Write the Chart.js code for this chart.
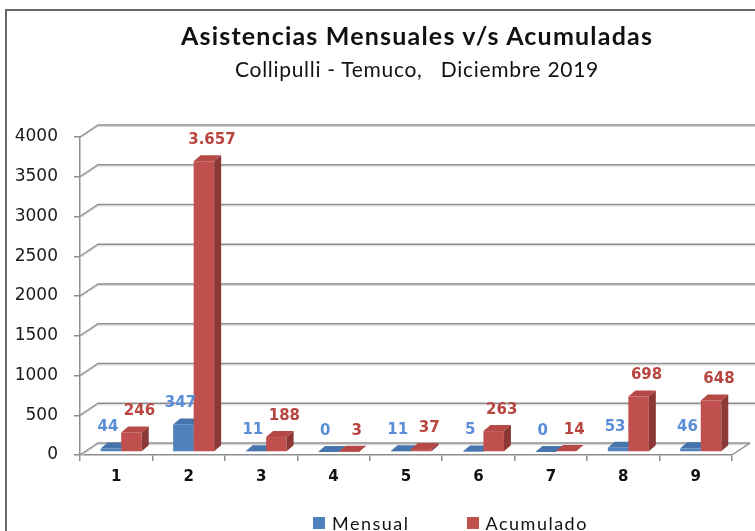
<!DOCTYPE html>
<html>
<head>
<meta charset="utf-8">
<script src="https://cdn.jsdelivr.net/npm/chart.js@4.4.1/dist/chart.umd.min.js"></script>
<style>
  body { margin: 0; background: #fff; }
  #wrap { position: relative; width: 755px; height: 531px; overflow: hidden; background: #fff; }
  #frame { position: absolute; left: 5px; top: 9px; width: 900px; height: 700px;
           border-left: 2px solid #666; border-top: 2px solid #666; }
  #chart { position: absolute; left: 0; top: 0; }
  .txt { position: absolute; left: 0; width: 834px; text-align: center; white-space: pre; color: #111; font-family: Lato, sans-serif; }
  #title { top: 23px; font-size: 25px; line-height: 25px; font-weight: bold; letter-spacing: 1.2px; }
  #subtitle { top: 58px; font-size: 21px; line-height: 21px; letter-spacing: 0.7px; }
  #legend { position: absolute; left: 313px; top: 514px; display: flex; gap: 57px;
            font-family: Lato, sans-serif; font-size: 18px; line-height: 18px; letter-spacing: 1.5px; color: #111; }
  #legend .item { display: flex; align-items: flex-start; }
  #legend .box { width: 12px; height: 12px; margin-top: 3px; margin-right: 7px; }
</style>
</head>
<body>
<div id="wrap">
  <div id="frame"></div>
  <canvas id="chart" width="755" height="531"></canvas>
  <div id="title" class="txt">Asistencias Mensuales v/s Acumuladas</div>
  <div id="subtitle" class="txt">Collipulli - Temuco,   Diciembre 2019</div>
  <div id="legend"></div>
</div>
<script>
const categories = ["1", "2", "3", "4", "5", "6", "7", "8", "9"];
const mensual = [44, 347, 11, 0, 11, 5, 0, 53, 46];
const acumulado = [246, 3657, 188, 3, 37, 263, 14, 698, 648];
const yMax = 4000;
const yStep = 500;

// depth of the walls and of the bars
const WALL_DX = 18, WALL_DY = 12;
const BAR_DX = 7, BAR_DY = 6;
const SHIFT_X = 5, SHIFT_Y = -3;

const faceColors = [
  { front: "#4F81BD", top: "#4675AE", side: "#385D8A", label: "#5A8ED6" },
  { front: "#C0504D", top: "#B64946", side: "#8C3836", label: "#B8453F" }
];

function fmt(n) {
  return String(n).replace(/\B(?=(\d{3})+(?!\d))/g, ".");
}

let drawingBars = false;

const wallsPlugin = {
  id: "walls",
  beforeDatasetsDraw(chart) {
    const ctx = chart.ctx;
    const { left, right, bottom } = chart.chartArea;
    const y = chart.scales.y;
    ctx.save();
    y.ticks.forEach(t => {
      const py = y.getPixelForValue(t.value);
      const end = t.value === 0 ? right + WALL_DX : chart.width;
      ctx.strokeStyle = "#d6d6d6";
      ctx.lineWidth = 1;
      ctx.beginPath();
      ctx.moveTo(left, py + 1.5);
      ctx.lineTo(left + WALL_DX, py - WALL_DY + 1.5);
      ctx.lineTo(end, py - WALL_DY + 1.5);
      ctx.stroke();
      ctx.strokeStyle = "#8e8e8e";
      ctx.lineWidth = 1.5;
      ctx.beginPath();
      ctx.moveTo(left, py);
      ctx.lineTo(left + WALL_DX, py - WALL_DY);
      ctx.lineTo(end, py - WALL_DY);
      ctx.stroke();
    });
    ctx.beginPath();
    ctx.moveTo(right, bottom);
    ctx.lineTo(right + WALL_DX, bottom - WALL_DY);
    ctx.stroke();
    ctx.restore();
  },
  // chart.js paints the last dataset first; skip that and paint them left to right below
  beforeDatasetDraw() {
    return drawingBars;
  },
  afterDatasetsDraw(chart) {
    const ctx = chart.ctx;
    drawingBars = true;
    chart.data.datasets.forEach((ds, i) => {
      const meta = chart.getDatasetMeta(i);
      const c = faceColors[i];
      ctx.save();
      ctx.translate(SHIFT_X, SHIFT_Y);
      meta.controller.draw();
      meta.data.forEach(bar => {
        const x0 = bar.x - bar.width / 2, x1 = bar.x + bar.width / 2;
        const top = bar.y, base = bar.base;
        ctx.fillStyle = c.top;
        ctx.beginPath();
        ctx.moveTo(x0, top);
        ctx.lineTo(x1, top);
        ctx.lineTo(x1 + BAR_DX, top - BAR_DY);
        ctx.lineTo(x0 + BAR_DX, top - BAR_DY);
        ctx.closePath();
        ctx.fill();
        ctx.fillStyle = c.side;
        ctx.beginPath();
        ctx.moveTo(x1, top);
        ctx.lineTo(x1 + BAR_DX, top - BAR_DY);
        ctx.lineTo(x1 + BAR_DX, base - BAR_DY);
        ctx.lineTo(x1, base);
        ctx.closePath();
        ctx.fill();
      });
      ctx.restore();
    });
    drawingBars = false;

    ctx.save();
    ctx.font = "bold 15px 'DejaVu Sans'";
    ctx.textAlign = "center";
    ctx.textBaseline = "middle";
    chart.data.datasets.forEach((ds, i) => {
      const meta = chart.getDatasetMeta(i);
      ctx.fillStyle = faceColors[i].label;
      meta.data.forEach((bar, j) => {
        const dx = i === 0 ? -3 : 8;
        ctx.fillText(fmt(ds.data[j]), bar.x + SHIFT_X + dx, bar.y + SHIFT_Y - 21);
      });
    });
    ctx.restore();
  }
};

const chart = new Chart(document.getElementById("chart"), {
  type: "bar",
  data: {
    labels: categories,
    datasets: [
      { label: "Mensual", data: mensual, backgroundColor: faceColors[0].front,
        categoryPercentage: 0.566, barPercentage: 1, clip: false },
      { label: "Acumulado", data: acumulado, backgroundColor: faceColors[1].front,
        categoryPercentage: 0.566, barPercentage: 1, clip: false }
    ]
  },
  options: {
    responsive: false,
    animation: false,
    layout: { padding: { top: 137, right: 23, bottom: 36, left: 0 } },
    plugins: {
      legend: { display: false },
      title: { display: false },
      tooltip: { enabled: false }
    },
    scales: {
      x: {
        afterFit: s => { s.height = 40; },
        grid: { drawOnChartArea: false, drawTicks: true, tickLength: 6, color: "#8e8e8e", lineWidth: 1.5 },
        border: { display: true, color: "#8e8e8e", width: 1.5 },
        ticks: { padding: 7, color: "#111", font: { family: "DejaVu Sans", size: 15, weight: "bold" } }
      },
      y: {
        min: 0,
        max: yMax,
        afterFit: s => { s.width = 80; },
        grid: { drawOnChartArea: false, drawTicks: true, tickLength: 6, color: "#8e8e8e", lineWidth: 1.5 },
        border: { display: true, color: "#8e8e8e", width: 1.5 },
        ticks: { stepSize: yStep, padding: 16, color: "#1a1a1a", font: { family: "DejaVu Sans", size: 17 },
                 callback: v => String(v) }
      }
    }
  },
  plugins: [wallsPlugin]
});

// legend built from the datasets
const legend = document.getElementById("legend");
chart.data.datasets.forEach(ds => {
  const item = document.createElement("div");
  item.className = "item";
  const box = document.createElement("span");
  box.className = "box";
  box.style.background = ds.backgroundColor;
  const text = document.createElement("span");
  text.textContent = ds.label;
  item.appendChild(box);
  item.appendChild(text);
  legend.appendChild(item);
});
</script>
</body>
</html>
